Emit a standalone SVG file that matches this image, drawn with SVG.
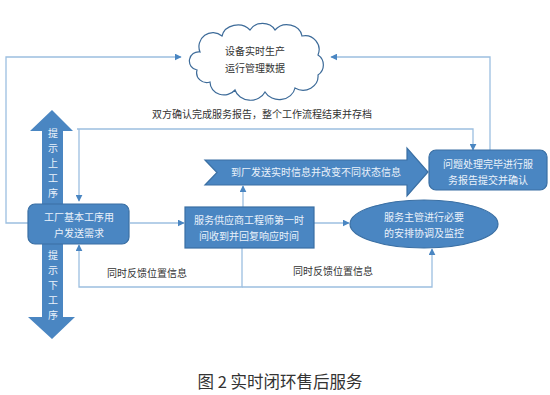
<svg xmlns="http://www.w3.org/2000/svg" width="550" height="395" viewBox="0 0 550 395">
<defs>
<style>
.shape{fill:#4a86c2;stroke:#3a6fa3;stroke-width:1.2}
.blk{fill:#4a86c2;stroke:none}
.conn{fill:none;stroke:#9cbfe0;stroke-width:1.3}
.wt{font-family:"Noto Sans CJK SC","Noto Sans",sans-serif;font-size:10px;fill:#eaf2fb;text-anchor:middle}
.dt{font-family:"Noto Sans CJK SC","Noto Sans",sans-serif;font-size:10px;fill:#333333}
.cap{font-family:"Noto Sans CJK SC","Noto Sans",sans-serif;font-size:16.5px;fill:#333333;text-anchor:middle}
</style>
<marker id="ah" viewBox="0 0 10 10" refX="9" refY="5" markerWidth="7" markerHeight="7" markerUnits="userSpaceOnUse" orient="auto">
<path d="M0,0 L10,5 L0,10 Z" fill="#4a86c2"/>
</marker>
</defs>
<rect width="550" height="395" fill="#ffffff"/>

<g id="connectors">
<path class="conn" d="M28,223 H6 V57 H181" marker-end="url(#ah)"/>
<path class="conn" d="M490,150 V57 H331" marker-end="url(#ah)"/>
<path class="conn" d="M77,129 H473 V150" marker-end="url(#ah)"/>
<path class="conn" d="M79,129 V201" marker-end="url(#ah)"/>
<path class="conn" d="M130,223 H184" marker-end="url(#ah)"/>
<path class="conn" d="M243,207 V186" marker-end="url(#ah)"/>
<path class="conn" d="M314,223 H349" marker-end="url(#ah)"/>
<path class="conn" d="M242,248 V287 H79 V245" marker-end="url(#ah)"/>
<path class="conn" d="M242,287 H432 V249" marker-end="url(#ah)"/>
</g>

<g id="cloud">
<path d="M200,52 A14,14 0 0 1 222,36 A16,14 0 0 1 250,30 A14,12 0 0 1 275,30 A15,13 0 0 1 302,36 A14,14 0 0 1 318,55 A12,12 0 0 1 318,75 A15,14 0 0 1 295,88 A16,14 0 0 1 265,92 A16,14 0 0 1 235,90 A14,13 0 0 1 210,82 A10,10 0 0 1 197,70 A9,9 0 0 1 200,52 Z" fill="#ffffff" stroke="#3d6b99" stroke-width="1.2"/>
<text class="dt" x="255" y="55" text-anchor="middle">设备实时生产</text>
<text class="dt" x="255" y="72" text-anchor="middle">运行管理数据</text>
</g>

<g id="label-archive">
<text class="dt" x="152" y="118" fill="#222222">双方确认完成服务报告，整个工作流程结束并存档</text>
</g>

<g id="arrow-up">
<polygon class="blk" points="52,110 73,131 63,131 63,210 42,210 42,131 30,131"/>
<text class="wt" x="53" y="137">提</text>
<text class="wt" x="53" y="152">示</text>
<text class="wt" x="53" y="167">上</text>
<text class="wt" x="53" y="182">工</text>
<text class="wt" x="53" y="197">序</text>
</g>

<g id="arrow-down">
<polygon class="blk" points="42,238 63,238 63,317 75,317 52,339 28,317 42,317"/>
<text class="wt" x="53" y="259">提</text>
<text class="wt" x="53" y="274">示</text>
<text class="wt" x="53" y="289">下</text>
<text class="wt" x="53" y="304">工</text>
<text class="wt" x="53" y="319">序</text>
</g>

<g id="factory">
<rect class="shape" x="28" y="204" width="101" height="40" rx="7"/>
<text class="wt" x="79" y="221">工厂基本工序用</text>
<text class="wt" x="79" y="237">户发送需求</text>
</g>

<g id="supplier">
<rect class="shape" x="185" y="207" width="129" height="41"/>
<text class="wt" x="249" y="224">服务供应商工程师第一时</text>
<text class="wt" x="249" y="240">间收到并回复响应时间</text>
</g>

<g id="status-arrow">
<polygon class="shape" points="205,160 407,160 407,148 428,172 407,196 407,185 205,185 217,172.5"/>
<text class="wt" x="316" y="176">到厂发送实时信息并改变不同状态信息</text>
</g>

<g id="report">
<rect class="shape" x="429" y="150" width="118" height="40" rx="7"/>
<text class="wt" x="488" y="168">问题处理完毕进行服</text>
<text class="wt" x="488" y="184">务报告提交并确认</text>
</g>

<g id="supervisor">
<ellipse class="shape" cx="424" cy="224" rx="74" ry="24"/>
<text class="wt" x="424" y="221">服务主管进行必要</text>
<text class="wt" x="424" y="237">的安排协调及监控</text>
</g>

<g id="feedback-labels">
<text class="dt" x="107" y="277">同时反馈位置信息</text>
<text class="dt" x="293" y="275">同时反馈位置信息</text>
</g>

<text class="cap" x="280" y="388">图 2 实时闭环售后服务</text>
</svg>
